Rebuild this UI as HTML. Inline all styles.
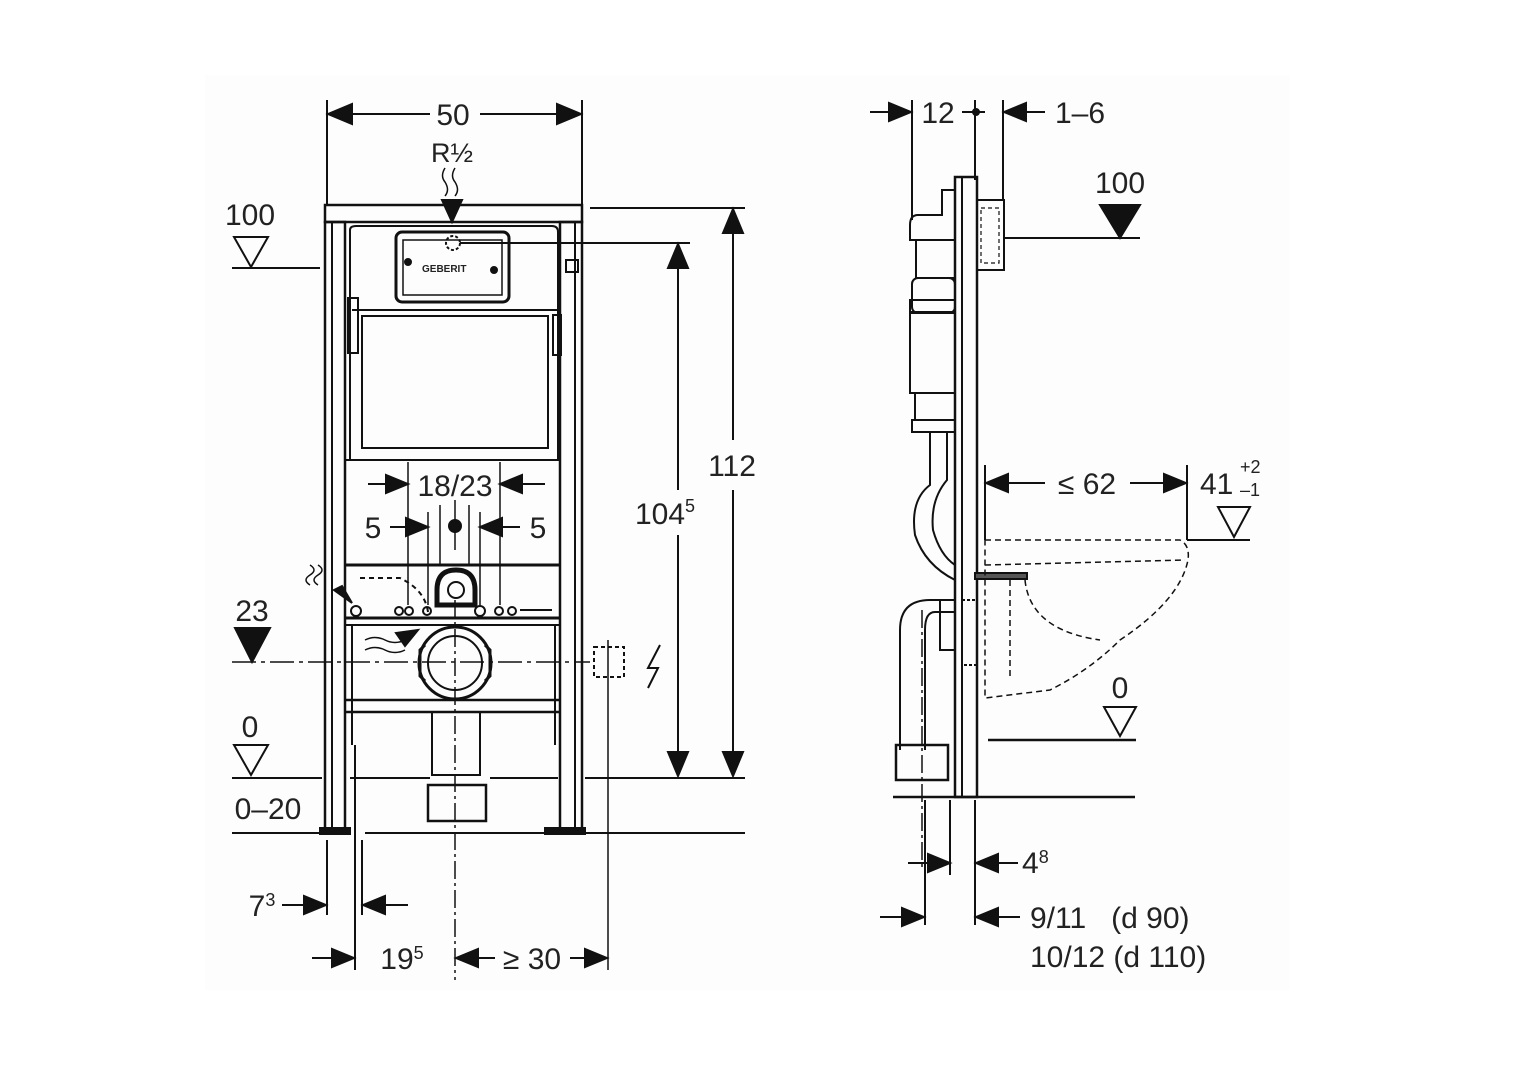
<!DOCTYPE html>
<html><head><meta charset="utf-8"><style>
html,body{margin:0;padding:0;background:#fff;}
svg{display:block}
text{font-family:"Liberation Sans","DejaVu Sans",sans-serif;fill:#222;font-size:30px}
</style></head><body>
<svg width="1529" height="1074" viewBox="0 0 1529 1074" xmlns="http://www.w3.org/2000/svg">
<rect x="205" y="75" width="1085" height="915" fill="#fdfdfd"/>
<g stroke="#111" stroke-width="2" fill="none">
<line x1="327" y1="100" x2="327" y2="205"/><line x1="582" y1="100" x2="582" y2="205"/>
<line x1="350" y1="114" x2="430" y2="114"/><line x1="480" y1="114" x2="560" y2="114"/>
<path d="M328,114L352,104L352,124z M581,114L557,104L557,124z" fill="#111"/>
<rect x="325" y="205" width="257" height="17" stroke-width="2.5"/>
<rect x="325" y="222" width="20" height="608" stroke-width="2.5"/>
<rect x="560" y="222" width="22" height="608" stroke-width="2.5"/>
<line x1="332" y1="222" x2="332" y2="830"/><line x1="575" y1="222" x2="575" y2="830"/>
<rect x="320" y="828" width="30" height="6" fill="#111"/><rect x="545" y="828" width="40" height="6" fill="#111"/>
<path d="M350,230 Q350,226 356,226 L552,226 Q558,226 558,232 L558,460 L350,460z" stroke-width="2"/>
<rect x="396" y="232" width="113" height="70" rx="6" stroke-width="3"/>
<rect x="403" y="240" width="99" height="55" stroke-width="1.5"/>
<circle cx="453" cy="243" r="7" stroke-dasharray="3,2"/>
<circle cx="408" cy="262" r="3" fill="#111"/><circle cx="494" cy="270" r="3" fill="#111"/>
<line x1="460" y1="243" x2="690" y2="243"/>
<line x1="352" y1="310" x2="558" y2="310"/>
<rect x="362" y="316" width="186" height="132" stroke-width="2"/>
<line x1="345" y1="460" x2="560" y2="460"/>
<rect x="348" y="298" width="10" height="55"/><rect x="553" y="315" width="8" height="40"/>
<rect x="566" y="260" width="12" height="12"/>
<line x1="345" y1="565" x2="560" y2="565" stroke-width="3"/>
<line x1="345" y1="618" x2="560" y2="618" stroke-width="3"/>
<line x1="345" y1="625" x2="560" y2="625"/>
<line x1="345" y1="700" x2="560" y2="700" stroke-width="2.5"/>
<line x1="345" y1="712" x2="560" y2="712" stroke-width="2.5"/>
<line x1="352" y1="625" x2="352" y2="745"/><line x1="555" y1="625" x2="555" y2="745"/>
<path d="M437,605 L437,590 Q437,570 456,570 Q475,570 475,590 L475,605z" stroke-width="5"/>
<circle cx="456" cy="590" r="8"/>
<circle cx="455" cy="663" r="36" stroke-width="3"/><circle cx="455" cy="663" r="27" stroke-width="2"/>
<path d="M425,645 L420,650 L420,676 L425,681 M485,645 L490,650 L490,676 L485,681" stroke-width="3"/>
<rect x="432" y="712" width="48" height="63"/>
<rect x="428" y="785" width="58" height="36" stroke-width="2.5"/>
<line x1="455" y1="600" x2="455" y2="980" stroke-dasharray="18,4,3,4" stroke-width="1.5"/>
<path d="M360,578 L400,578 Q425,590 428,612" stroke-dasharray="5,4"/>
<g stroke-width="2"><circle cx="356" cy="611" r="5"/><circle cx="399" cy="611" r="4"/><circle cx="409" cy="611" r="4"/><circle cx="427" cy="611" r="4"/><circle cx="480" cy="611" r="5"/><circle cx="499" cy="611" r="4"/><circle cx="512" cy="611" r="4"/></g>
<line x1="520" y1="610" x2="552" y2="610"/>
<g stroke-width="1.5"><line x1="408" y1="462" x2="408" y2="605"/><line x1="500" y1="462" x2="500" y2="605"/><line x1="428" y1="512" x2="428" y2="605"/><line x1="480" y1="512" x2="480" y2="605"/><line x1="440" y1="505" x2="440" y2="565"/><line x1="469" y1="505" x2="469" y2="565"/><line x1="455" y1="500" x2="455" y2="550"/></g>
<line x1="368" y1="484" x2="388" y2="484"/><path d="M408,484L386,475L386,493z" fill="#111"/>
<line x1="520" y1="484" x2="545" y2="484"/><path d="M500,484L522,475L522,493z" fill="#111"/>
<line x1="390" y1="527" x2="406" y2="527"/><path d="M428,527L406,518L406,536z" fill="#111"/>
<line x1="502" y1="527" x2="520" y2="527"/><path d="M480,527L502,518L502,536z" fill="#111"/>
<circle cx="455" cy="526" r="6" fill="#111"/>
<path d="M234,237L268,237L251,267z"/><line x1="232" y1="268" x2="320" y2="268"/>
<path d="M235,628L270,628L252,662z" fill="#111"/>
<line x1="232" y1="662" x2="590" y2="662" stroke-dasharray="24,5,4,5" stroke-width="1.5"/>
<path d="M234,745L268,745L251,775z"/>
<line x1="232" y1="778" x2="322" y2="778"/><line x1="350" y1="778" x2="430" y2="778"/><line x1="490" y1="778" x2="558" y2="778"/><line x1="585" y1="778" x2="745" y2="778"/>
<line x1="232" y1="833" x2="322" y2="833"/><line x1="365" y1="833" x2="545" y2="833"/><line x1="585" y1="833" x2="745" y2="833"/>
<rect x="594" y="647" width="30" height="30" stroke-dasharray="4,3"/>
<line x1="608" y1="640" x2="608" y2="970" stroke-width="1.5"/>
<path d="M660,645 L648,668 L658,668 L648,688" stroke-width="2"/>
<path d="M310,565 q8,5 0,10 q-8,5 0,10 M318,565 q8,5 0,10 q-8,5 0,10" stroke-width="1.5"/>
<path d="M352,603L334,590L342,586z" fill="#111"/>
<path d="M365,640 q10,-5 20,0 q10,5 20,0 M365,650 q10,-5 20,0 q10,5 20,0" stroke-width="1.5"/>
<path d="M418,630L396,633L405,646z" fill="#111"/>
<path d="M445,168 q-5,8 0,14 q5,8 0,14 M455,168 q-5,8 0,14 q5,8 0,14" stroke-width="1.5"/>
<path d="M452,222L442,200L462,200z" fill="#111"/>
<line x1="590" y1="208" x2="745" y2="208"/>
<line x1="733" y1="232" x2="733" y2="440"/><line x1="733" y1="490" x2="733" y2="752"/>
<path d="M733,209L723,233L743,233z M733,776L723,752L743,752z" fill="#111"/>
<line x1="678" y1="268" x2="678" y2="490"/><line x1="678" y1="535" x2="678" y2="752"/>
<path d="M678,244L668,268L688,268z M678,776L668,752L688,752z" fill="#111"/>
<line x1="327" y1="840" x2="327" y2="915"/><line x1="355" y1="745" x2="355" y2="970"/><line x1="362" y1="840" x2="362" y2="915"/>
<line x1="282" y1="905" x2="305" y2="905"/><path d="M326,905L304,896L304,914z" fill="#111"/>
<line x1="385" y1="905" x2="408" y2="905"/><path d="M363,905L385,896L385,914z" fill="#111"/>
<line x1="312" y1="958" x2="333" y2="958"/><path d="M354,958L332,949L332,967z" fill="#111"/>
<line x1="478" y1="958" x2="495" y2="958"/><path d="M456,958L478,949L478,967z" fill="#111"/>
<line x1="570" y1="958" x2="586" y2="958"/><path d="M607,958L585,949L585,967z" fill="#111"/>

<line x1="912" y1="100" x2="912" y2="220"/><line x1="975" y1="100" x2="975" y2="180"/><line x1="1003" y1="100" x2="1003" y2="200"/>
<line x1="870" y1="112" x2="890" y2="112"/><path d="M911,112L889,103L889,121z" fill="#111"/>
<line x1="1025" y1="112" x2="1045" y2="112"/><path d="M1004,112L1026,103L1026,121z" fill="#111"/>
<line x1="962" y1="112" x2="985" y2="112"/><circle cx="976" cy="112" r="3" fill="#111"/>
<rect x="955" y="177" width="22" height="620" stroke-width="2.5"/>
<line x1="962" y1="177" x2="962" y2="797"/>
<rect x="977" y="200" width="27" height="70" stroke-width="2"/>
<rect x="981" y="208" width="18" height="55" stroke-dasharray="4,3" stroke-width="1.2"/>
<path d="M955,190 L942,190 L942,215 L918,215 Q910,215 910,225 L910,240 L916,240 L916,278 L955,278"/>
<path d="M916,240 L955,240"/>
<rect x="912" y="278" width="43" height="35" rx="6"/>
<rect x="910" y="300" width="45" height="12"/>
<rect x="910" y="313" width="45" height="80"/>
<rect x="912" y="420" width="43" height="12"/>
<path d="M915,393 L915,420 M955,393 L955,420"/>
<path d="M930,432 L930,485 Q910,500 915,535 Q925,565 955,580 M947,432 L947,480 Q930,500 933,530 Q940,555 955,565"/>
<path d="M955,600 L930,600 Q900,600 900,630 L900,750 M955,612 L935,612 Q925,612 925,630 L925,750 M940,600 L940,650 L955,650"/>
<rect x="896" y="745" width="52" height="35" stroke-width="2.5"/>
<line x1="922" y1="610" x2="922" y2="870" stroke-dasharray="18,4,3,4" stroke-width="1.5"/>
<rect x="975" y="573" width="52" height="6" fill="#555"/>
<rect x="962" y="600" width="15" height="65" stroke-dasharray="3,2"/>
<path d="M985,540 L1180,540 Q1190,545 1188,560 Q1180,600 1120,640 Q1090,670 1050,690 L985,698 Z" stroke-dasharray="6,4" stroke-width="1.5"/>
<path d="M985,565 L1185,560 M1025,580 Q1030,630 1100,640 M1010,580 L1010,678" stroke-dasharray="6,4" stroke-width="1.5"/>
<path d="M1100,205L1140,205L1120,238z" fill="#111"/><line x1="1005" y1="238" x2="1140" y2="238"/>
<line x1="985" y1="465" x2="985" y2="540"/><line x1="1187" y1="465" x2="1187" y2="540"/>
<line x1="1008" y1="483" x2="1045" y2="483"/><path d="M986,483L1008,474L1008,492z" fill="#111"/>
<line x1="1130" y1="483" x2="1165" y2="483"/><path d="M1186,483L1164,474L1164,492z" fill="#111"/>
<path d="M1218,507L1250,507L1234,537z"/><line x1="1187" y1="540" x2="1250" y2="540"/>
<path d="M1104,707L1136,707L1120,736z"/><line x1="988" y1="740" x2="1136" y2="740" stroke-width="2.5"/>
<line x1="893" y1="797" x2="1135" y2="797" stroke-width="2.5"/>
<line x1="925" y1="800" x2="925" y2="925"/><line x1="950" y1="800" x2="950" y2="875"/><line x1="975" y1="800" x2="975" y2="925"/>
<line x1="908" y1="863" x2="928" y2="863"/><path d="M950,863L928,854L928,872z" fill="#111"/>
<line x1="998" y1="863" x2="1018" y2="863"/><path d="M976,863L998,854L998,872z" fill="#111"/>
<line x1="880" y1="917" x2="903" y2="917"/><path d="M924,917L902,908L902,926z" fill="#111"/>
<line x1="998" y1="917" x2="1020" y2="917"/><path d="M976,917L998,908L998,926z" fill="#111"/>
</g>
<text x="422" y="272" style="font-size:10px;font-weight:bold">GEBERIT</text>
<text x="453" y="125" text-anchor="middle">50</text>
<text x="452" y="162" text-anchor="middle" style="font-size:27px">R½</text>
<text x="250" y="225" text-anchor="middle">100</text>
<text x="252" y="621" text-anchor="middle">23</text>
<text x="250" y="737" text-anchor="middle">0</text>
<text x="268" y="819" text-anchor="middle">0–20</text>
<text x="455" y="496" text-anchor="middle">18/23</text>
<text x="373" y="538" text-anchor="middle">5</text>
<text x="538" y="538" text-anchor="middle">5</text>
<text x="732" y="476" text-anchor="middle">112</text>
<text x="665" y="524" text-anchor="middle">104<tspan font-size="18" dy="-12">5</tspan></text>
<text x="262" y="916" text-anchor="middle">7<tspan font-size="18" dy="-10">3</tspan></text>
<text x="402" y="969" text-anchor="middle">19<tspan font-size="18" dy="-10">5</tspan></text>
<text x="532" y="969" text-anchor="middle">≥ 30</text>
<text x="938" y="123" text-anchor="middle">12</text>
<text x="1080" y="123" text-anchor="middle">1–6</text>
<text x="1120" y="193" text-anchor="middle">100</text>
<text x="1087" y="494" text-anchor="middle">≤ 62</text>
<text x="1200" y="494">41</text>
<text x="1240" y="473" style="font-size:18px">+2</text>
<text x="1240" y="496" style="font-size:18px">–1</text>
<text x="1120" y="698" text-anchor="middle">0</text>
<text x="1022" y="873">4<tspan font-size="18" dy="-10">8</tspan></text>
<text x="1030" y="928" xml:space="preserve">9/11   (d 90)</text>
<text x="1030" y="967">10/12 (d 110)</text>
</svg>
</body></html>
